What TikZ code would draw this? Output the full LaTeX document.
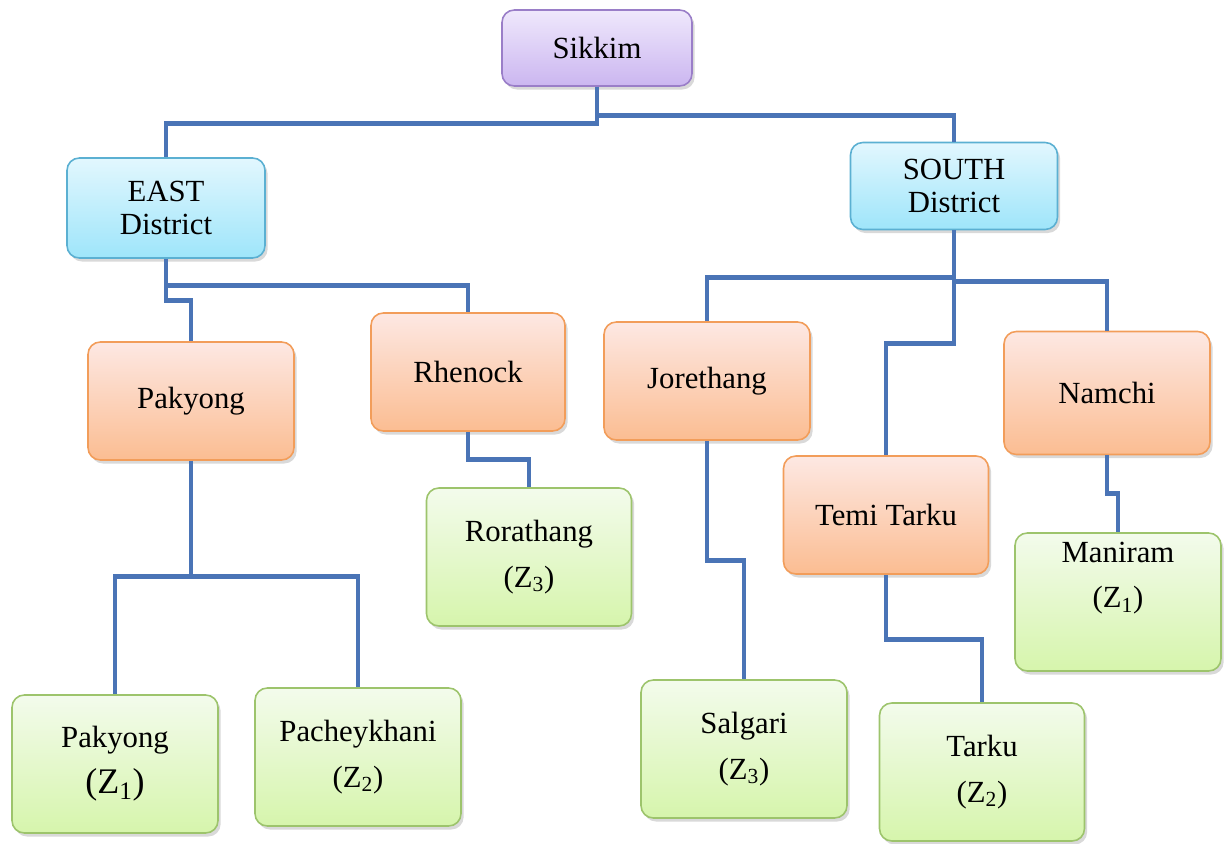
\documentclass[tikz,border=0pt]{standalone}
\usepackage{fontspec}
\setmainfont{LiberationSerif-Regular.ttf}
\usetikzlibrary{shadows}
\definecolor{linkblue}{HTML}{4A74B6}
\definecolor{statetop}{HTML}{EFE8FC}
\definecolor{statebot}{HTML}{CBB6F0}
\definecolor{stateline}{HTML}{9A7EC8}
\definecolor{disttop}{HTML}{E2F7FE}
\definecolor{distbot}{HTML}{9EE5FA}
\definecolor{distline}{HTML}{5BB0D2}
\definecolor{towntop}{HTML}{FDE8E3}
\definecolor{townbot}{HTML}{FBBD92}
\definecolor{townline}{HTML}{F29D5A}
\definecolor{zonetop}{HTML}{F3FBEC}
\definecolor{zonebot}{HTML}{D6F5AC}
\definecolor{zoneline}{HTML}{9DC46C}
\begin{document}
\begin{tikzpicture}[x=0.02cm,y=-0.02cm,
  font=\fontsize{17.5}{26}\selectfont,
  box/.style={rounded corners=7pt,line width=0.9pt,align=center,
    drop shadow={opacity=0.3,shadow xshift=1.5pt,shadow yshift=-2pt}},
  state/.style={box,draw=stateline,top color=statetop,bottom color=statebot,
    minimum width=3.8cm,minimum height=1.52cm},
  dist/.style={box,draw=distline,top color=disttop,bottom color=distbot,
    minimum width=4.1cm,minimum height=1.8cm,font=\fontsize{17.5}{19}\selectfont},
  town/.style={box,draw=townline,top color=towntop,bottom color=townbot,
    minimum width=4.12cm,minimum height=2.36cm},
  zone/.style={box,draw=zoneline,top color=zonetop,bottom color=zonebot,
    minimum width=4.12cm,minimum height=2.76cm},
  link/.style={draw=linkblue,line width=2.8pt}]
\useasboundingbox (0,0) rectangle (1230,844);
\node[state] (sikkim) at (597,48) {Sikkim};
\node[dist,minimum width=3.96cm,minimum height=2cm] (east) at (166,208) {EAST\\District};
\node[dist,minimum width=4.14cm,minimum height=1.74cm] (south) at (954,186) {SOUTH\\District};
\node[town] (pakyong) at (191,401) {Pakyong}; \node[town,minimum width=3.88cm] (rhenock) at (468,372) {Rhenock};
\node[town] (jorethang) at (707,381) {Jorethang}; \node[town,minimum width=4.1cm] (temi) at (886,515) {Temi Tarku};
\node[town,minimum height=2.46cm] (namchi) at (1107,393) {Namchi};
\node[zone] (pakyongz) at (115,764) {Pakyong\\{\fontsize{20.5}{26}\selectfont(Z\textsubscript{1})}};
\node[zone] (pachey) at (358,757) {Pacheykhani\\(Z\textsubscript{2})};
\node[zone,minimum width=4.1cm] (rorathang) at (529,557) {Rorathang\\(Z\textsubscript{3})};
\node[zone] (salgari) at (744,749) {Salgari\\(Z\textsubscript{3})};
\node[zone,minimum width=4.1cm] (tarku) at (982,772) {Tarku\\(Z\textsubscript{2})};
\node[zone,label={[align=center,yshift=0.48cm]center:{Maniram\\(Z\textsubscript{1})}}] (maniram) at (1118,602) {};
\draw[link] (sikkim.south) -- ++(0,37) -| (east.north);
\draw[link] (sikkim.south) -- ++(0,29) -| (south.north);
\draw[link] (east.south) -- ++(0,42) -| (pakyong.north);
\draw[link] (east.south) -- ++(0,27) -| (rhenock.north);
\draw[link] (south.south) -- ++(0,47) -| (jorethang.north);
\draw[link] (south.south) -- ++(0,51) -| (namchi.north);
\draw[link] (south.south) -- ++(0,113) -| (temi.north);
\draw[link] (pakyong.south) -- ++(0,116) -| (pakyongz.north);
\draw[link] (pakyong.south) -- ++(0,116) -| (pachey.north);
\draw[link] (rhenock.south) -- ++(0,28) -| (rorathang.north);
\draw[link] (jorethang.south) -- ++(0,120) -| (salgari.north);
\draw[link] (temi.south) -- ++(0,65) -| (tarku.north);
\draw[link] (namchi.south) -- ++(0,38) -| (maniram.north);
\end{tikzpicture}
\end{document}
